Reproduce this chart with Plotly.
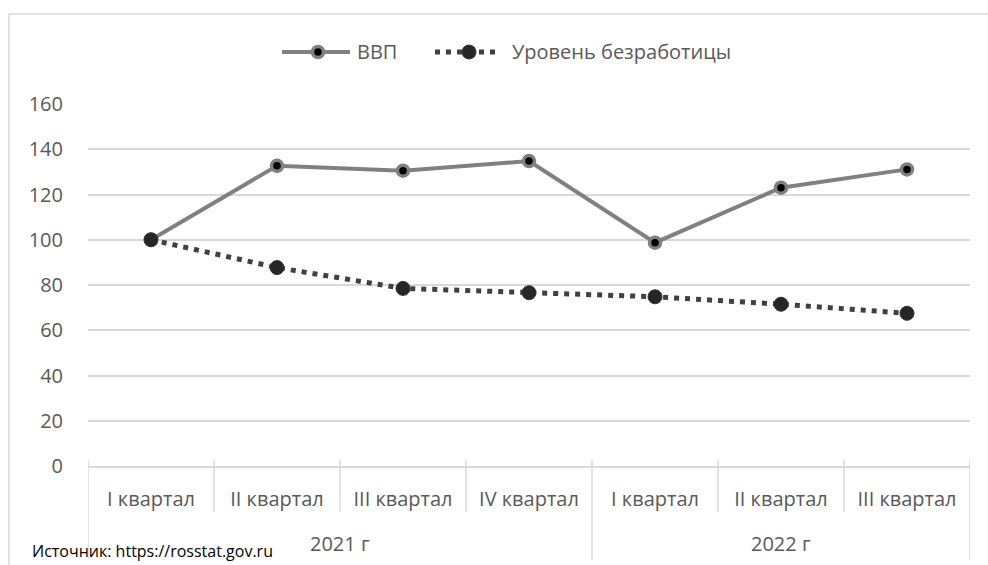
import plotly.graph_objects as go

# Quarterly indices (first quarter of 2021 = 100)
quarters = ["I квартал", "II квартал", "III квартал", "IV квартал",
            "I квартал", "II квартал", "III квартал"]
year_labels = ["2021 г", "2022 г"]
year_sizes = [4, 3]  # number of quarters in each year
gdp = [100, 132.7, 130.5, 134.8, 98.7, 123.0, 131.1]
unemployment = [100, 87.7, 78.5, 76.6, 74.8, 71.5, 67.5]
y_ticks = [0, 20, 40, 60, 80, 100, 120, 140, 160]

TEXT = "#595959"
GRID = "#d9d9d9"
FONT = "Open Sans"

W, H = 988, 565
L, R, T, B = 88, 18, 104, 99
PW, PH = W - L - R, H - T - B

GDP_LINE = dict(color="#808080", width=4)
GDP_MARK = dict(color="#000000", size=11, line=dict(color="#808080", width=3.5))
UNEMP_LINE = dict(color="#404040", width=5, dash="5px,6px")
UNEMP_MARK = dict(color="#262626", size=14, line=dict(color="#333333", width=1))


def px_y(py):
    """Pixel row -> paper y coordinate."""
    return (H - B - py) / PH


def px_x(px):
    """Pixel column -> paper x coordinate."""
    return (px - L) / PW


pos = list(range(len(quarters)))

fig = go.Figure()
fig.add_trace(go.Scatter(x=pos, y=gdp, name="ВВП", mode="lines+markers",
                         line=GDP_LINE, marker=GDP_MARK))
fig.add_trace(go.Scatter(x=pos, y=unemployment, name="Уровень безработицы",
                         mode="lines+markers", line=UNEMP_LINE, marker=UNEMP_MARK))

# separators between quarters, longer ones between years
boundaries = [p - 0.5 for p in pos] + [pos[-1] + 0.5]
year_edges = [-0.5]
for n in year_sizes:
    year_edges.append(year_edges[-1] + n)
for b in boundaries:
    bottom = 560 if b in year_edges else 512
    fig.add_shape(type="line", xref="x", yref="paper", x0=b, x1=b,
                  y0=px_y(460), y1=px_y(bottom), line=dict(color=GRID, width=1.5))

# year labels centred under their quarters
start = 0
for label, n in zip(year_labels, year_sizes):
    fig.add_annotation(text=label, xref="x", yref="paper",
                       x=start + (n - 1) / 2, y=px_y(543),
                       showarrow=False, xanchor="center", yanchor="middle",
                       font=dict(family=FONT, size=20, color=TEXT))
    start += n


# legend drawn with long line samples
def legend_entry(x_start, x_end, x_mark, x_text, line, mark, label):
    ly = px_y(52)
    fig.add_shape(type="line", xref="paper", yref="paper",
                  x0=px_x(x_start), x1=px_x(x_end), y0=ly, y1=ly,
                  line=dict(color=line["color"], width=line["width"],
                            dash=line.get("dash", "solid")))
    r = mark["size"] / 2
    fig.add_shape(type="circle", xref="paper", yref="paper",
                  xsizemode="pixel", ysizemode="pixel",
                  xanchor=px_x(x_mark), yanchor=ly,
                  x0=-r, x1=r, y0=-r, y1=r,
                  fillcolor=mark["color"],
                  line=dict(color=mark["line"]["color"], width=mark["line"]["width"]))
    fig.add_annotation(text=label, xref="paper", yref="paper",
                       x=px_x(x_text), y=ly, xanchor="left", yanchor="middle",
                       showarrow=False, font=dict(family=FONT, size=20, color=TEXT))


legend_entry(282, 350, 318, 355, GDP_LINE, GDP_MARK, "ВВП")
legend_entry(435, 499, 469, 510, UNEMP_LINE, UNEMP_MARK, "Уровень безработицы")

# outer frame of the chart area
fig.add_shape(type="rect", xref="paper", yref="paper",
              x0=px_x(9), x1=px_x(W + 10), y0=px_y(H + 10), y1=px_y(14),
              line=dict(color=GRID, width=1.5), fillcolor="rgba(0,0,0,0)",
              layer="below")

fig.add_annotation(text="Источник: https://rosstat.gov.ru", xref="paper", yref="paper",
                   x=px_x(30), y=px_y(551),
                   xanchor="left", yanchor="middle", showarrow=False,
                   font=dict(family=FONT, size=16, color="#000000"))

fig.update_layout(
    width=W, height=H,
    margin=dict(l=L, r=R, t=T, b=B, pad=0),
    paper_bgcolor="white", plot_bgcolor="white",
    font=dict(family=FONT, size=20, color=TEXT),
    showlegend=False,
    xaxis=dict(
        range=[-0.5, len(quarters) - 0.5], tickvals=pos, ticktext=quarters,
        showgrid=False, zeroline=False, showline=True, linecolor=GRID, linewidth=1.5,
        ticks="", ticklabelstandoff=14,
        tickfont=dict(family=FONT, size=20, color=TEXT),
        fixedrange=True,
    ),
    yaxis=dict(
        range=[0, 160], tickvals=y_ticks, showgrid=True, gridcolor=GRID, gridwidth=1.5,
        zeroline=False, showline=False, ticks="", ticklabelstandoff=24,
        tickfont=dict(family=FONT, size=20, color=TEXT),
        fixedrange=True,
    ),
)

fig.write_html("out.html")
